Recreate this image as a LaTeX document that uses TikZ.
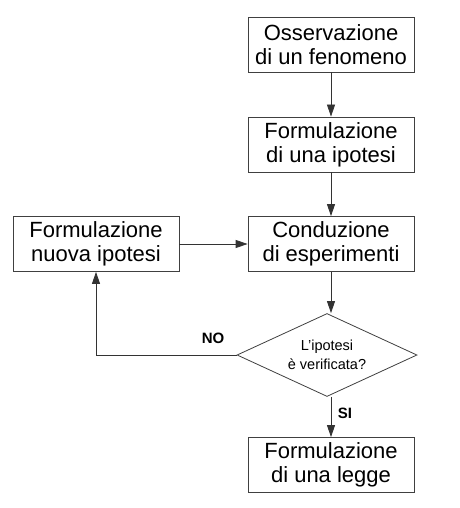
\documentclass[tikz,border=0pt]{standalone}
\usepackage{fontspec}
\setmainfont{Liberation Sans}
\usetikzlibrary{shapes.geometric,arrows.meta}
\begin{document}
\begin{tikzpicture}[x=1pt,y=-1pt,
  box/.style={draw=black!75,line width=0.8pt,minimum width=166pt,minimum height=55pt,inner sep=0pt,align=center,font=\fontsize{22}{24}\selectfont},
  dec/.style={draw=black!75,line width=0.8pt,diamond,minimum width=180pt,minimum height=83pt,inner sep=0pt,aspect=2.17,align=center,font=\fontsize{14.5}{19}\selectfont},
  conn/.style={draw=black!80,line width=0.8pt,-{Triangle[length=12pt,width=8pt]}},
  lbl/.style={font=\bfseries\fontsize{15}{17}\selectfont}]
\useasboundingbox[fill=white] (0,0) rectangle (459,508);
\node[box] (b1) at (331,44.5) {Osservazione\\di un fenomeno};
\node[box] (b2) at (331,144.5) {Formulazione\\di una ipotesi};
\node[box] (b3) at (331,244) {Conduzione\\di esperimenti};
\node[box] (bl) at (96,244) {Formulazione\\nuova ipotesi};
\node[dec] (d) at (327,355) {L\char"0027 ipotesi\\è verificata?};
\node[box] (b4) at (331,465) {Formulazione\\di una legge};
\coordinate (c) at (96,355);
\draw[conn] (b1) -- (b2);
\draw[conn] (b2) -- (b3);
\draw[conn] (bl) -- (b3);
\draw[conn] (b3.south) -- (b3.south |- d.north);
\draw[conn] (d.west) -- (c) -- (bl.south);
\draw[conn] (d.south -| b4.north) -- (b4.north);
\node[lbl] (no) at (213,338) {NO};
\node[lbl] (si) at (345,413) {SI};
\end{tikzpicture}
\end{document}
